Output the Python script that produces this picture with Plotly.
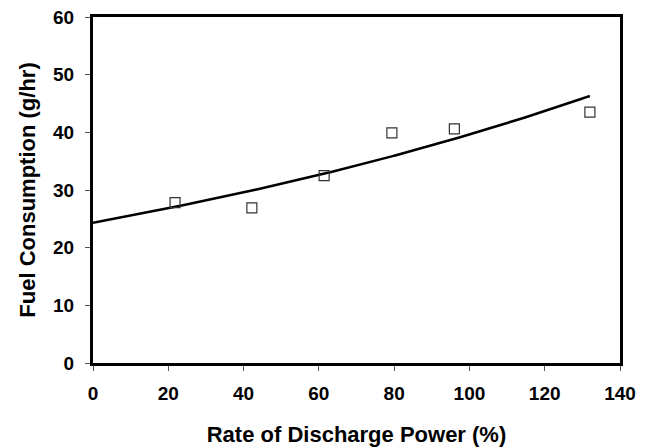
import numpy as np
import plotly.graph_objects as go

# Measured fuel consumption vs. discharge power rate
discharge_pct = [21.8, 42.2, 61.4, 79.4, 96.0, 132.0]
fuel_g_per_hr = [27.8, 26.9, 32.5, 39.9, 40.6, 43.5]

x_ticks = [0, 20, 40, 60, 80, 100, 120, 140]
y_ticks = [0, 10, 20, 30, 40, 50, 60]

# Exponential trend line y = a*exp(b*x), fitted on log(y)
b, ln_a = np.polyfit(discharge_pct, np.log(fuel_g_per_hr), 1)
trend_x = np.linspace(0, max(discharge_pct), 200)
trend_y = np.exp(ln_a) * np.exp(b * trend_x)

font_family = "Liberation Sans, Arial, sans-serif"
tick_font = dict(family=font_family, size=19, color="black", weight="bold")
title_font = dict(family=font_family, size=22, color="black", weight="bold")

fig = go.Figure()
fig.add_trace(go.Scatter(
    x=trend_x, y=trend_y, mode="lines",
    line=dict(color="black", width=2.5),
    showlegend=False, hoverinfo="skip",
))
fig.add_trace(go.Scatter(
    x=discharge_pct, y=fuel_g_per_hr, mode="markers",
    marker=dict(symbol="square-open", size=10, color="#333333",
                line=dict(width=1.2, color="#333333")),
    showlegend=False,
))

axis_common = dict(
    showgrid=False, zeroline=False, automargin=False,
    showline=True, linecolor="black", linewidth=3, mirror=True,
    ticks="outside", ticklen=5, tickwidth=1, tickcolor="#555555",
    tickfont=tick_font,
)

fig.update_xaxes(
    range=[0, 140], tickvals=x_ticks, ticklabelstandoff=6,
    title=dict(text="Rate of Discharge Power (%)", standoff=24, font=title_font),
    **axis_common,
)
fig.update_yaxes(
    range=[0, 60], tickvals=y_ticks, ticklabelstandoff=7,
    title=dict(text="Fuel Consumption (g/hr)", standoff=12, font=title_font),
    **axis_common,
)

fig.update_layout(
    width=652, height=447,
    margin=dict(l=93, r=32, t=17, b=84),
    paper_bgcolor="white", plot_bgcolor="white",
)

fig.write_html("out.html")
